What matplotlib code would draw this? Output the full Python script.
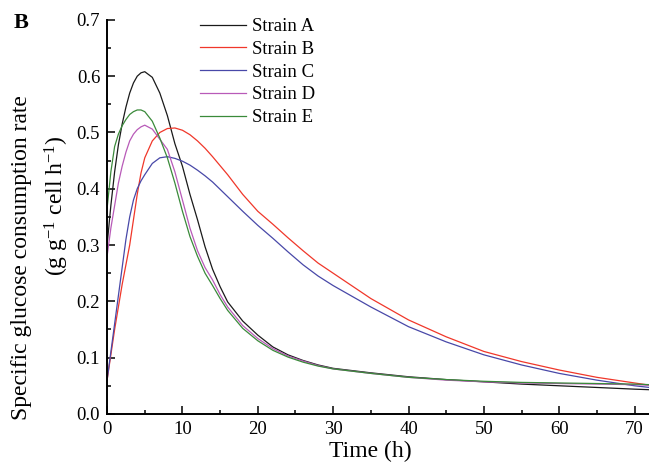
from matplotlib import pyplot as plt
from matplotlib.ticker import MultipleLocator

plt.rcParams['font.family'] = ['Liberation Serif', 'DejaVu Serif']
plt.rcParams['mathtext.fontset'] = 'custom'
plt.rcParams['mathtext.rm'] = 'Liberation Serif'
plt.rcParams['mathtext.default'] = 'regular'

# time points (h)
time_h = [0, 0.5, 1, 1.5, 2, 2.5, 3, 3.5, 4, 4.5, 5, 6, 7, 8, 9, 10, 11, 12, 13, 14, 15, 16,
          18, 20, 22, 24, 26, 28, 30, 35, 40, 45, 50, 55, 60, 65, 70, 72]

# specific glucose consumption rate, g g-1 cell h-1
strain_a = [0.30, 0.37, 0.43, 0.478, 0.515, 0.545, 0.57, 0.588, 0.60, 0.606, 0.608, 0.598, 0.57, 0.53, 0.48, 0.44,
            0.39, 0.345, 0.297, 0.257, 0.226, 0.199,
            0.165, 0.14, 0.119, 0.105, 0.095, 0.087, 0.081, 0.073, 0.066, 0.061, 0.057, 0.053, 0.05, 0.047, 0.044, 0.043]
strain_b = [0.06, 0.105, 0.15, 0.19, 0.23, 0.265, 0.30, 0.345, 0.39, 0.428, 0.455, 0.485, 0.50, 0.507, 0.508, 0.504,
            0.496, 0.485, 0.472, 0.457, 0.441, 0.425,
            0.39, 0.36, 0.337, 0.313, 0.29, 0.268, 0.25, 0.205, 0.167, 0.137, 0.111, 0.093, 0.078, 0.065, 0.055, 0.051]
strain_c = [0.06, 0.11, 0.16, 0.21, 0.26, 0.31, 0.35, 0.38, 0.40, 0.414, 0.425, 0.445, 0.455, 0.457, 0.454, 0.449,
            0.442, 0.433, 0.423, 0.412, 0.399, 0.386,
            0.36, 0.335, 0.312, 0.288, 0.265, 0.245, 0.228, 0.19, 0.155, 0.128, 0.105, 0.087, 0.072, 0.06, 0.05, 0.047]
strain_d = [0.28, 0.33, 0.37, 0.41, 0.44, 0.465, 0.485, 0.497, 0.505, 0.51, 0.513, 0.506, 0.488, 0.47, 0.43, 0.38,
            0.33, 0.29, 0.26, 0.238, 0.212, 0.19,
            0.157, 0.134, 0.116, 0.103, 0.094, 0.086, 0.08, 0.072, 0.065, 0.06, 0.057, 0.055, 0.054, 0.053, 0.052, 0.051]
strain_e = [0.365, 0.43, 0.475, 0.497, 0.512, 0.523, 0.532, 0.537, 0.54, 0.54, 0.537, 0.52, 0.49, 0.455, 0.41, 0.36,
            0.315, 0.28, 0.25, 0.228, 0.205, 0.184,
            0.152, 0.13, 0.113, 0.101, 0.092, 0.085, 0.08, 0.072, 0.065, 0.061, 0.058, 0.056, 0.055, 0.054, 0.053, 0.052]

labels = ['Strain A', 'Strain B', 'Strain C', 'Strain D', 'Strain E']
colors = ['#1a1a1a', '#f0372a', '#4848a8', '#b85ab8', '#3a8a3a']

fig = plt.figure(figsize=(6.49, 4.63), dpi=100)
ax = fig.add_axes([0.165, 0.106, 0.836, 0.851])

for series, lab, col in zip([strain_a, strain_b, strain_c, strain_d, strain_e], labels, colors):
    ax.plot(time_h, series, color=col, lw=0.9, label=lab)

ax.set_xlim(0, 72)
ax.set_ylim(0, 0.7)
ax.xaxis.set_major_locator(MultipleLocator(10))
ax.xaxis.set_minor_locator(MultipleLocator(5))
ax.yaxis.set_major_locator(MultipleLocator(0.1))
ax.yaxis.set_minor_locator(MultipleLocator(0.05))
ax.yaxis.set_major_formatter(plt.FormatStrFormatter('%.1f'))

ax.spines['top'].set_visible(False)
ax.spines['right'].set_visible(False)
for s in ['left', 'bottom']:
    ax.spines[s].set_linewidth(1.4)
ax.tick_params(which='both', direction='in', width=1.1, labelsize=13.5)
ax.tick_params(which='major', length=5.8, pad=5)
ax.tick_params(which='minor', length=2.9)

ax.set_xlabel('Time (h)', fontsize=17)
ax.xaxis.set_label_coords(0.485, -0.068)

# y label drawn as two lines, each placed on its own
fig.text(22/649, 1 - 258/463, 'Specific glucose consumption rate', rotation=90,
         ha='center', va='center', fontsize=17)
fig.text(57/649, 1 - 206/463, r'(g g$^{-1}$ cell h$^{-1}$)', rotation=90,
         ha='center', va='center', fontsize=17)

fig.text(21/649, 1 - 23/463, 'B', fontsize=16, fontweight='bold', ha='center', va='center')

ax.legend(loc='upper left', bbox_to_anchor=(200/649, 1 - 18/463), bbox_transform=fig.transFigure,
          frameon=False, fontsize=13.5, handlelength=2.45, handletextpad=0.3,
          labelspacing=0.3, borderpad=0, borderaxespad=0)

plt.savefig('out.png', dpi=100)
